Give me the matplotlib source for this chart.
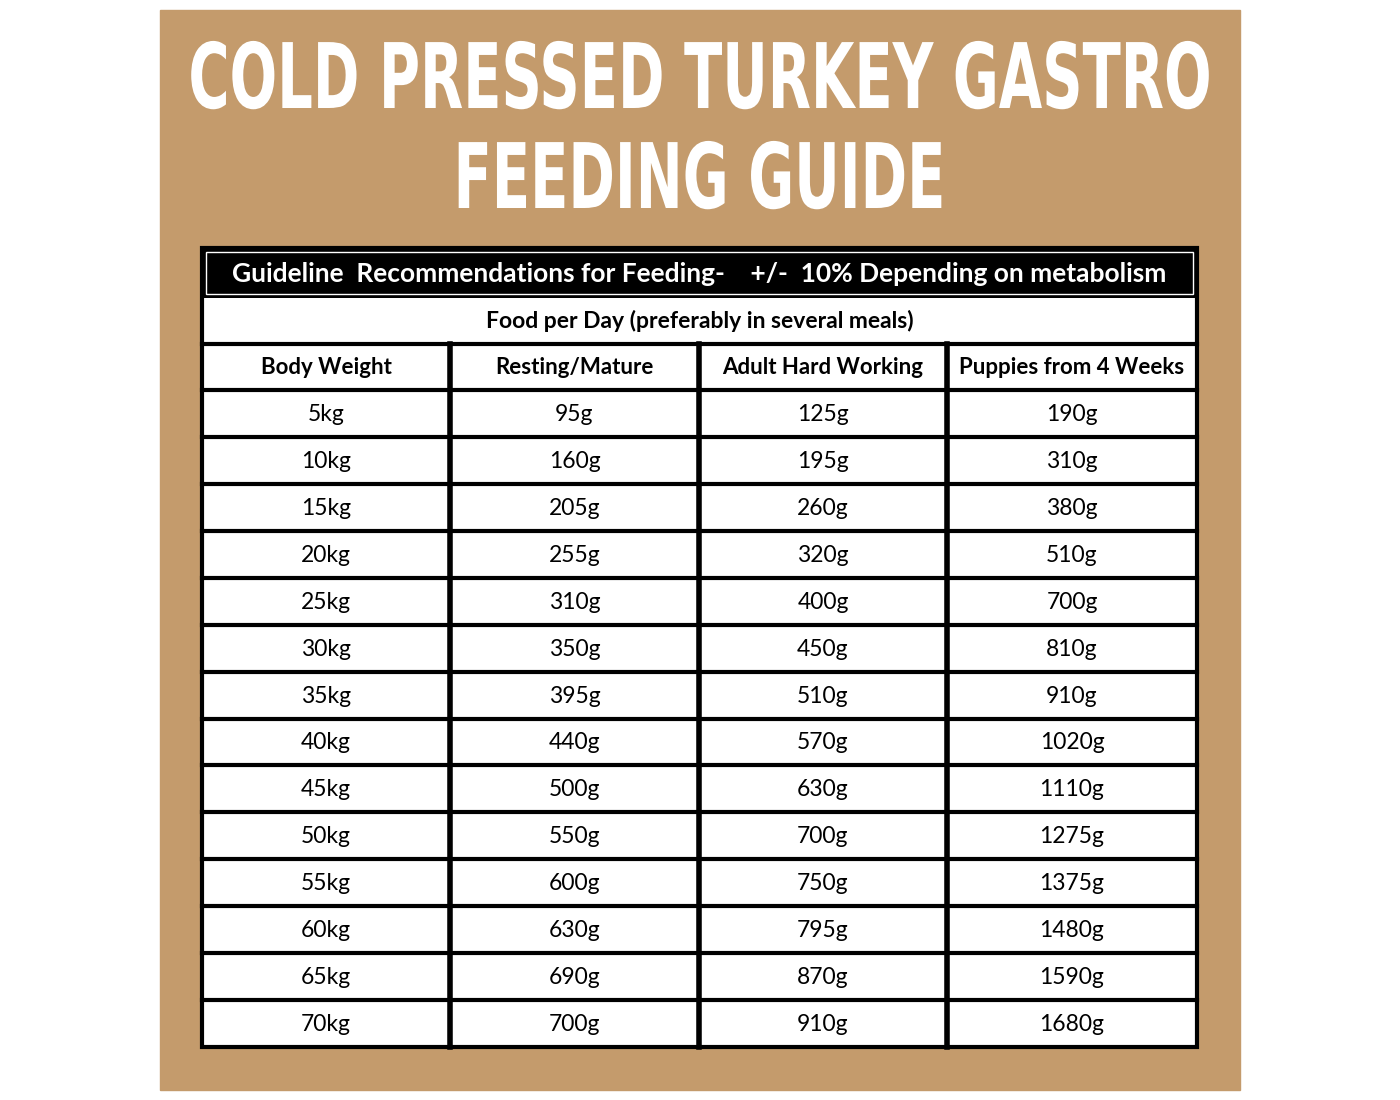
import matplotlib
matplotlib.use("Agg")
import matplotlib.pyplot as plt
from matplotlib.patches import Rectangle, PathPatch
from matplotlib.textpath import TextPath
from matplotlib.font_manager import FontProperties
from matplotlib.transforms import Affine2D

title_lines = ["COLD PRESSED TURKEY GASTRO", "FEEDING GUIDE"]
banner = "Guideline  Recommendations for Feeding-    +/-  10% Depending on metabolism"
subheader = "Food per Day (preferably in several meals)"
columns = ["Body Weight", "Resting/Mature", "Adult Hard Working", "Puppies from 4 Weeks"]
body_weight = ["5kg", "10kg", "15kg", "20kg", "25kg", "30kg", "35kg", "40kg",
               "45kg", "50kg", "55kg", "60kg", "65kg", "70kg"]
resting = ["95g", "160g", "205g", "255g", "310g", "350g", "395g", "440g",
           "500g", "550g", "600g", "630g", "690g", "700g"]
working = ["125g", "195g", "260g", "320g", "400g", "450g", "510g", "570g",
           "630g", "700g", "750g", "795g", "870g", "910g"]
puppies = ["190g", "310g", "380g", "510g", "700g", "810g", "910g", "1020g",
           "1110g", "1275g", "1375g", "1480g", "1590g", "1680g"]

TAN = "#c49b6c"
FONT = "Lato"

fig = plt.figure(figsize=(14, 11), dpi=100)
ax = fig.add_axes([0, 0, 1, 1])
ax.set_xlim(0, 1400)
ax.set_ylim(1100, 0)
ax.axis("off")

ax.add_patch(Rectangle((160, 10), 1080, 1080, color=TAN, zorder=0))

# condensed title: squeeze a bold text path horizontally
title_fp = FontProperties(family="DejaVu Sans", weight="bold")
cap_h = 66
x_squeeze = 0.62
for y_mid, line in zip([75, 175], title_lines):
    tp = TextPath((0, 0), line, prop=title_fp, size=100)
    ext = tp.get_extents()
    sy = cap_h / 73.0  # DejaVu cap height ~0.73 em
    sx = sy * x_squeeze
    w = ext.width * sx
    tr = Affine2D().translate(-ext.x0, 0).scale(sx, -sy).translate(700 - w / 2, y_mid + cap_h / 2)
    ax.add_patch(PathPatch(tr.transform_path(tp), facecolor="white", edgecolor="none", zorder=2))

left, right = 202, 1197
col_x = [202, 450, 699, 947, 1197]
top, banner_bot, sub_bot, head_bot, bottom = 248, 298, 344, 390, 1047
rows = list(zip(body_weight, resting, working, puppies))
row_h = (bottom - head_bot) / len(rows)

ax.add_patch(Rectangle((left, top), right - left, bottom - top,
                       facecolor="white", edgecolor="black", lw=3, zorder=1))
ax.add_patch(Rectangle((left, top), right - left, banner_bot - top,
                       facecolor="black", zorder=2))
ax.add_patch(Rectangle((left + 4, top + 4), right - left - 8, banner_bot - top - 8,
                       facecolor="none", edgecolor="white", lw=1, zorder=3))
ax.text((left + right) / 2, (top + banner_bot) / 2 + 1, banner, ha="center",
        va="center", color="white", fontsize=19, fontweight="bold", family=FONT, zorder=4)
ax.text((left + right) / 2, (banner_bot + sub_bot) / 2, subheader, ha="center",
        va="center", fontsize=16.5, fontweight="bold", family=FONT, zorder=4)

lw = 3
for y in [sub_bot, head_bot] + [head_bot + row_h * i for i in range(1, len(rows))]:
    ax.plot([left, right], [y, y], color="black", lw=lw, zorder=3)
for x in col_x[1:-1]:
    ax.plot([x, x], [sub_bot, bottom], color="black", lw=lw + 1, zorder=3)

for j, name in enumerate(columns):
    cx = (col_x[j] + col_x[j + 1]) / 2
    ax.text(cx, (sub_bot + head_bot) / 2 + 1, name, ha="center", va="center",
            fontsize=16, fontweight="bold", family=FONT, zorder=4)
    for i, row in enumerate(rows):
        cy = head_bot + row_h * (i + 0.5) + 1
        ax.text(cx, cy, row[j], ha="center", va="center", fontsize=16.5,
                family=FONT, zorder=4)

fig.savefig("out.png", dpi=100, facecolor="white")
